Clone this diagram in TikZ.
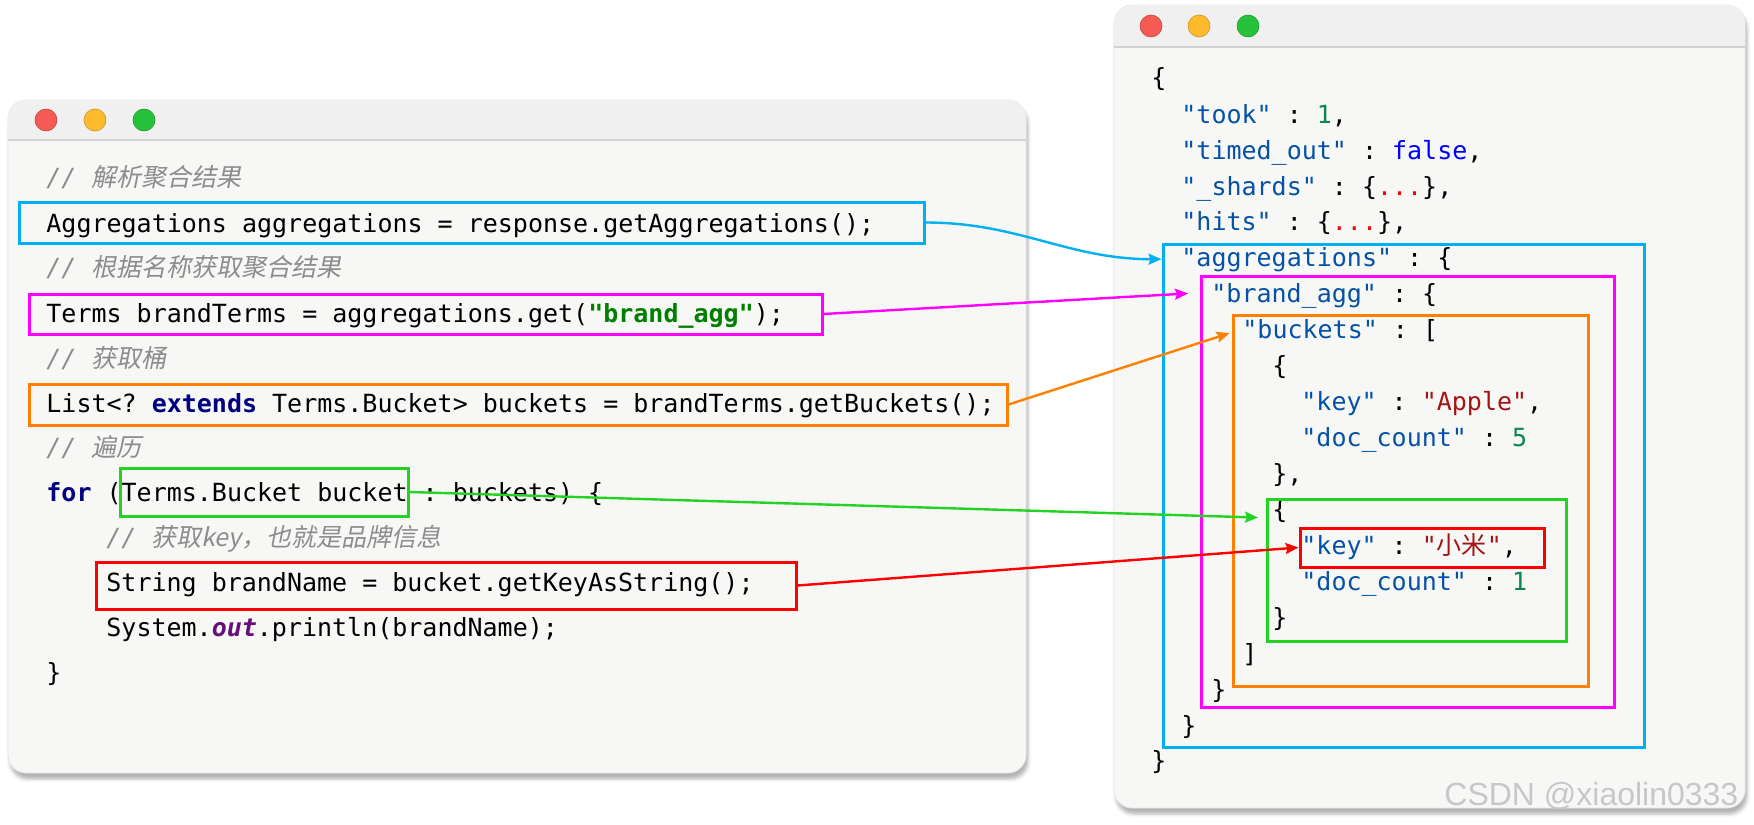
\documentclass[tikz,border=0pt]{standalone}
\usepackage{fontspec}
\setmonofont{DejaVu Sans Mono}
\setsansfont{Liberation Sans}
\newfontfamily\cjk{Noto Sans CJK SC}
\newfontfamily\cjkit{Noto Sans CJK SC}[FakeSlant=0.2]
\usetikzlibrary{arrows.meta}
\usetikzlibrary{calc,fit,shadows.blur}

\definecolor{aggblue}{HTML}{00B0F0}
\definecolor{aggmag}{HTML}{FF00FF}
\definecolor{aggorange}{HTML}{FF8000}
\definecolor{agggreen}{HTML}{22D322}
\definecolor{aggred}{HTML}{FF0000}
\definecolor{cmtgray}{HTML}{8C8C8C}
\definecolor{kwnavy}{HTML}{000080}
\definecolor{strgreen}{HTML}{008000}
\definecolor{fieldpurple}{HTML}{660E7A}
\definecolor{jkey}{HTML}{0451A5}
\definecolor{jnum}{HTML}{098658}
\definecolor{jbool}{HTML}{0000FF}
\definecolor{jstr}{HTML}{A31515}
\definecolor{winbody}{HTML}{F7F8F6}
\definecolor{winbar}{HTML}{F0F0F0}
\definecolor{barline}{HTML}{D2D2D2}
\definecolor{dotred}{HTML}{F55A55}
\definecolor{dotyellow}{HTML}{FDBA2C}
\definecolor{dotgreen}{HTML}{27C23C}

\newcommand\cmt[1]{{\color{cmtgray}\itshape //\ {\cjkit #1}}}
\newcommand\jk[1]{{\color{jkey}"#1"}}
\newcommand\js[1]{{\color{jstr}"#1"}}
\newcommand\jn[1]{{\color{jnum}#1}}
\newcommand\kw[1]{{\bfseries\color{kwnavy}#1}}

\tikzset{
  code/.style={anchor=base west, inner sep=0, font=\ttfamily\fontsize{12.5}{15}\selectfont},
  hl/.style={draw=#1, line width=1.5pt, inner sep=0},
  link/.style={draw=#1, line width=1.2pt, ->, >={Stealth[length=6.5pt, width=5.5pt, inset=1pt]}},
  window/.style={fill=winbody, draw=black!10, rounded corners=9pt,
    blur shadow={shadow xshift=1pt, shadow yshift=-3pt, shadow opacity=30}},
}

\begin{document}
\begin{tikzpicture}[x=0.5pt, y=-0.5pt]
\useasboundingbox (0,0) rectangle (1754,824);

% windows
\draw[window] (8,100) rectangle (1026,773);
\begin{scope}
\clip[rounded corners=9pt] (8,100) rectangle (1026,773);
\fill[winbar] (8,100) rectangle (1026,140);
\end{scope}
\draw[barline, line width=1pt] (8,140) -- (1026,140);
\draw[window] (1114,5) rectangle (1745,808);
\begin{scope}
\clip[rounded corners=9pt] (1114,5) rectangle (1745,808);
\fill[winbar] (1114,5) rectangle (1745,47);
\end{scope}
\draw[barline, line width=1pt] (1114,47) -- (1745,47);
\foreach \x/\c in {46/dotred, 95/dotyellow, 144/dotgreen} {
  \filldraw[fill=\c, draw=\c!80!black, line width=.3pt] (\x,120) circle (5.5pt);
}
\foreach \x/\c in {1151/dotred, 1199/dotyellow, 1248/dotgreen} {
  \filldraw[fill=\c, draw=\c!80!black, line width=.3pt] (\x,26) circle (5.5pt);
}

% java code
\node[code] (cmtParse)  at (46,186) {\cmt{解析聚合结果}};
\node[code] (lnAgg)     at (46,232) {Aggregations aggregations = response.getAggregations();};
\node[code] (cmtGet)    at (46,276) {\cmt{根据名称获取聚合结果}};
\node[code] (lnTerms)   at (46,322) {Terms brandTerms = aggregations.get({\bfseries\color{strgreen}"brand\_agg"});};
\node[code] (cmtBucket) at (46,367) {\cmt{获取桶}};
\node[code] (lnList)    at (46,412) {List<? \kw{extends} Terms.Bucket> buckets = brandTerms.getBuckets();};
\node[code] (cmtLoop)   at (46,456) {\cmt{遍历}};
\node[code] (lnFor)     at (46,501) {\kw{for} (Terms.Bucket bucket : buckets) \{};
\node[code] (cmtKey)    at (106,546) {\cmt{获取key，也就是品牌信息}};
\node[code] (lnName)    at (106,591) {String brandName = bucket.getKeyAsString();};
\node[code] (lnPrint)   at (106,636) {System.{\bfseries\itshape\color{fieldpurple}out}.println(brandName);};
\node[code] (lnEnd)     at (46,681) {\}};

% json response
\node[code] (jOpen)     at (1151,87)  {\{};
\node[code] (jTook)     at (1181,123) {\jk{took} : \jn{1},};
\node[code] (jTimed)    at (1181,159) {\jk{timed\_out} : {\color{jbool}false},};
\node[code] (jShards)   at (1181,195) {\jk{\_shards} : \{{\color{aggred}...}\},};
\node[code] (jHits)     at (1181,230) {\jk{hits} : \{{\color{aggred}...}\},};
\node[code] (jAgg)      at (1181,266) {\jk{aggregations} : \{};
\node[code] (jBrand)    at (1211,302) {\jk{brand\_agg} : \{};
\node[code] (jBuckets)  at (1242,338) {\jk{buckets} : [};
\node[code] (jObjA)     at (1272,374) {\{};
\node[code] (jKeyA)     at (1301,410) {\jk{key} : \js{Apple},};
\node[code] (jCountA)   at (1301,446) {\jk{doc\_count} : \jn{5}};
\node[code] (jCloseA)   at (1272,482) {\},};
\node[code] (jObjB)     at (1272,518) {\{};
\node[code] (jKeyB)     at (1301,554) {\jk{key} : {\color{jstr}"{\cjk 小米}"},};
\node[code] (jCountB)   at (1301,590) {\jk{doc\_count} : \jn{1}};
\node[code] (jCloseB)   at (1272,626) {\}};
\node[code] (jArrEnd)   at (1242,662) {]};
\node[code] (jBrandEnd) at (1211,698) {\}};
\node[code] (jAggEnd)   at (1181,734) {\}};
\node[code] (jEnd)      at (1151,769) {\}};

% highlight boxes
\node[hl=aggblue,   fit={(19,202) (924,243)}]   (boxAggL) {};
\node[hl=aggmag,    fit={(29,294) (822,334)}]   (boxTermsL) {};
\node[hl=aggorange, fit={(29,384) (1007,425)}]  (boxListL) {};
\node[hl=agggreen,  fit={(120,468) (408,516)}]  (boxForL) {};
\node[hl=aggred,    fit={(96,562) (796,609)}]   (boxNameL) {};
\node[hl=aggblue,   fit={(1163,244) (1644,747)}] (boxAggR) {};
\node[hl=aggmag,    fit={(1201,276) (1614,707)}] (boxBrandR) {};
\node[hl=aggorange, fit={(1233,315) (1588,686)}] (boxBktR) {};
\node[hl=agggreen,  fit={(1267,499) (1566,641)}] (boxObjR) {};
\node[hl=aggred,    fit={(1300,528) (1544,567)}] (boxKeyR) {};

% links
\draw[link=aggblue] (boxAggL.east) to[out=0, in=180] (boxAggR.west |- jAgg);
\draw[link=aggmag] (boxTermsL.east) -- ($(jBrand.west)+(-23,-2)$);
\draw[link=aggorange] (boxListL.east) -- ($(boxBktR.west |- jBuckets)+(-2,3)$);
\draw[link=agggreen] (boxForL.east) -- ($(jObjB.west)+(-14,7)$);
\draw[link=aggred] (boxNameL.east) -- (boxKeyR.west);

% watermark
\node[anchor=base west, inner sep=0, font=\sffamily\fontsize{16}{18}\selectfont, text=black!22] (mark) at (1444,805) {CSDN @xiaolin0333};
\end{tikzpicture}
\end{document}
